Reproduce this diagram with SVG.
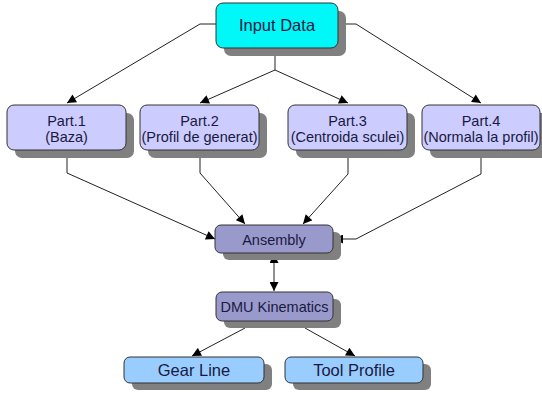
<svg xmlns="http://www.w3.org/2000/svg" width="542" height="395" viewBox="0 0 542 395">
<defs>
<marker id="ah" viewBox="0 0 10 10" refX="10" refY="5" markerWidth="10" markerHeight="9" markerUnits="userSpaceOnUse" orient="auto-start-reverse">
<path d="M0,0 L10,5 L0,10 z" fill="#000"/>
</marker>
</defs>
<style>
.sh{fill:#808080}
.box{stroke:#333;stroke-width:1}
.in{fill:#00f8f8}
.part{fill:#ccccff}
.mid{fill:#9999cc}
.out{fill:#99ccff}
text{font-family:"Liberation Sans",Arial,sans-serif;fill:#1a1a40;text-anchor:middle}
.t16{font-size:16.5px}
.t14{font-size:14.5px}
.c{fill:none;stroke:#222;stroke-width:1}
</style>
<rect width="542" height="395" fill="#fff"/>
<g id="connectors">
<polyline class="c" points="216,24 200,24 67,103" marker-end="url(#ah)"/>
<polyline class="c" points="338,24 356,24 481,103" marker-end="url(#ah)"/>
<polyline class="c" points="275,48 275,70 200,103" marker-end="url(#ah)"/>
<polyline class="c" points="275,70 348,103" marker-end="url(#ah)"/>
<polyline class="c" points="67,150 67,173 215,239" marker-end="url(#ah)"/>
<polyline class="c" points="200,150 200,173 245,224" marker-end="url(#ah)"/>
<polyline class="c" points="348,150 348,174 303,224" marker-end="url(#ah)"/>
<polyline class="c" points="481,150 481,174 356,239 334,239" marker-end="url(#ah)"/>
<line class="c" x1="274" y1="254" x2="274" y2="291" marker-start="url(#ah)" marker-end="url(#ah)"/>
<polyline class="c" points="245,321 245,328 192,356" marker-end="url(#ah)"/>
<polyline class="c" points="305,321 305,328 355,356" marker-end="url(#ah)"/>
</g>
<g id="input">
<rect class="sh" x="224" y="11" width="122" height="45" rx="7"/>
<rect class="box in" x="216" y="3" width="122" height="45" rx="7"/>
<text class="t16" x="277" y="31">Input Data</text>
</g>
<g id="part1">
<rect class="sh" x="15" y="113" width="119" height="45" rx="7"/>
<rect class="box part" x="7" y="105" width="119" height="45" rx="7"/>
<text class="t14" x="66.5" y="126">Part.1</text>
<text class="t14" x="66.5" y="142">(Baza)</text>
</g>
<g id="part2">
<rect class="sh" x="148" y="113" width="119" height="45" rx="7"/>
<rect class="box part" x="140" y="105" width="119" height="45" rx="7"/>
<text class="t14" x="199.5" y="126">Part.2</text>
<text class="t14" x="199.5" y="142">(Profil de generat)</text>
</g>
<g id="part3">
<rect class="sh" x="296" y="113" width="119" height="45" rx="7"/>
<rect class="box part" x="288" y="105" width="119" height="45" rx="7"/>
<text class="t14" x="347.5" y="126">Part.3</text>
<text class="t14" x="347.5" y="142">(Centroida sculei)</text>
</g>
<g id="part4">
<rect class="sh" x="430" y="113" width="118" height="45" rx="7"/>
<rect class="box part" x="422" y="105" width="118" height="45" rx="7"/>
<text class="t14" x="481" y="126">Part.4</text>
<text class="t14" x="481" y="142">(Normala la profil)</text>
</g>
<g id="ansembly">
<rect class="sh" x="223" y="232" width="118" height="28" rx="6"/>
<rect class="box mid" x="215" y="225" width="118" height="28" rx="6"/>
<text class="t14" x="274" y="244.5">Ansembly</text>
</g>
<g id="dmu">
<rect class="sh" x="224" y="299" width="117" height="29" rx="6"/>
<rect class="box mid" x="216" y="292" width="117" height="29" rx="6"/>
<text class="t14" x="274.5" y="311.5">DMU Kinematics</text>
</g>
<g id="gearline">
<rect class="sh" x="132" y="364" width="140" height="26" rx="6"/>
<rect class="box out" x="124" y="357" width="140" height="26" rx="6"/>
<text class="t16" x="194" y="376">Gear Line</text>
</g>
<g id="toolprofile">
<rect class="sh" x="293" y="364" width="138" height="26" rx="6"/>
<rect class="box out" x="285" y="357" width="138" height="26" rx="6"/>
<text class="t16" x="354" y="376">Tool Profile</text>
</g>
</svg>
